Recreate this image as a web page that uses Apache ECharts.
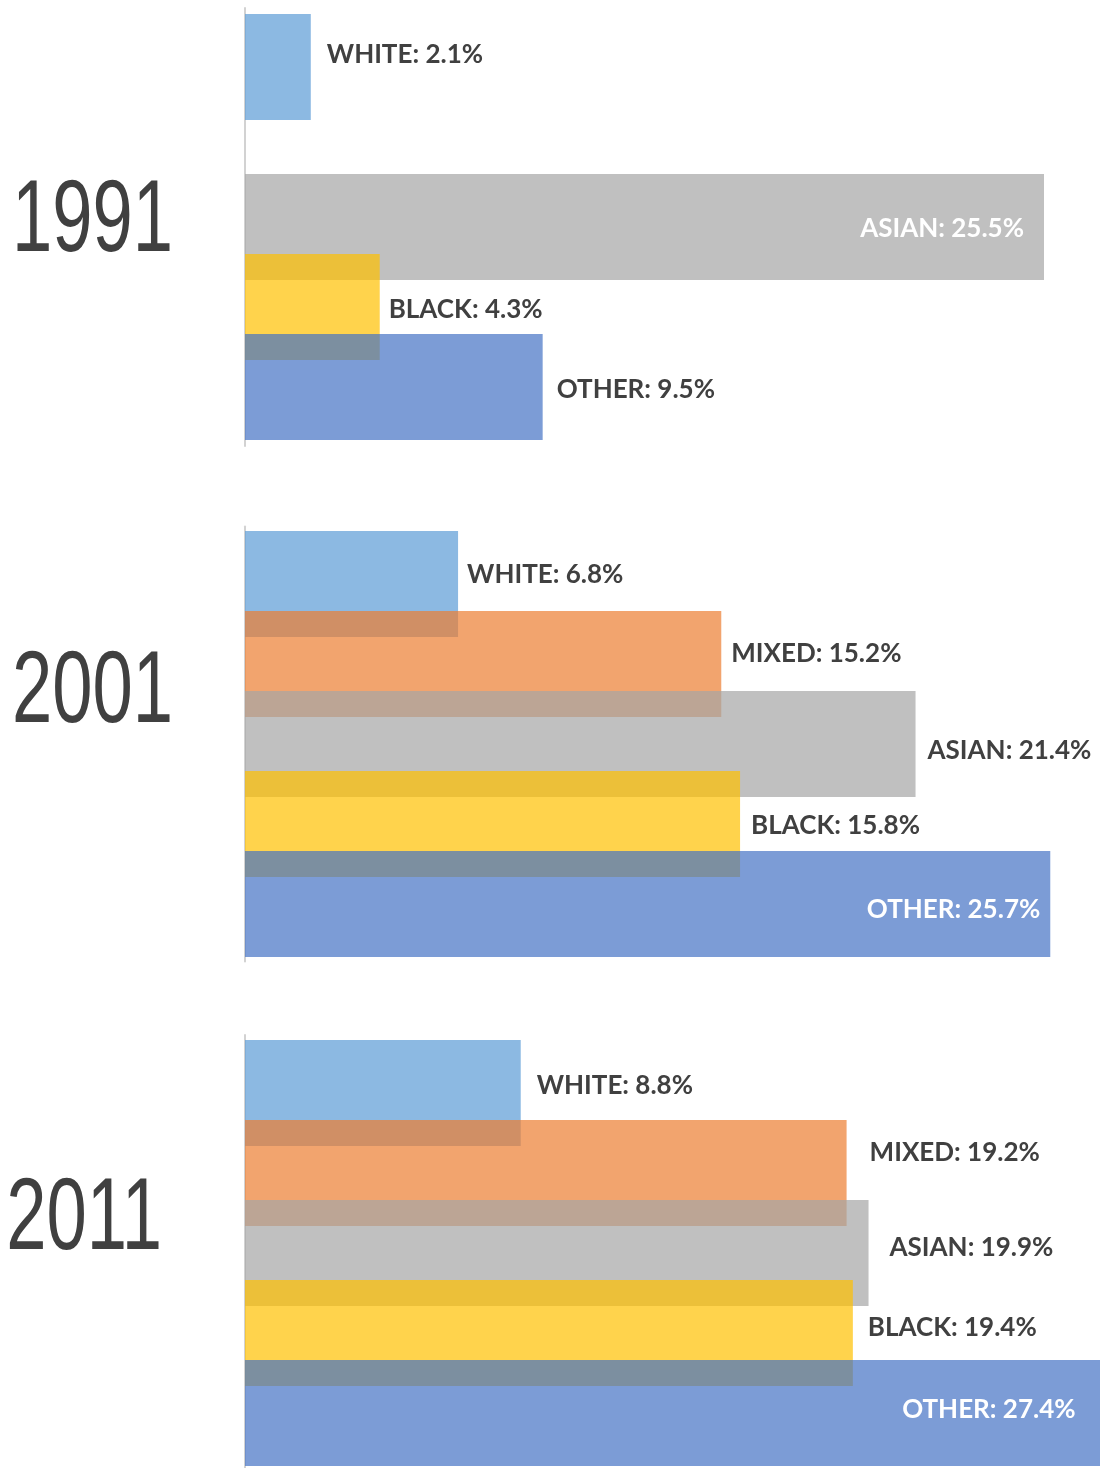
<!DOCTYPE html>
<html>
<head>
<meta charset="utf-8">
<script src="https://cdn.jsdelivr.net/npm/echarts@6/dist/echarts.min.js"></script>
<style>
  html, body { margin: 0; padding: 0; background: #ffffff; }
  #chart { width: 1100px; height: 1468px; }
</style>
</head>
<body>
<div id="chart"></div>
<script>
// Census shares by group (%), one entry per year
const years  = ['1991', '2001', '2011'];
const groups = ['WHITE', 'MIXED', 'ASIAN', 'BLACK', 'OTHER'];
const white  = [2.1, 6.8, 8.8];
const mixed  = [null, 15.2, 19.2];
const asian  = [25.5, 21.4, 19.9];
const black  = [4.3, 15.8, 19.4];
const other  = [9.5, 25.7, 27.4];
const valuesByGroup = [white, mixed, asian, black, other];

// ---- styling / layout ----
const groupColors = ['#5B9BD5', '#ED7D31', '#A5A5A5', '#FFC000', '#4472C4'];
const panelTop    = [8, 526.5, 1035];
const panelHeight = [438, 435, 436];
// large year captions: right edge and vertical centre, condensed horizontally
const yearRight   = [173, 173, 162];
const yearCenter  = [222.5, 694, 1220.5];
// per panel, per group: [label position, distance from bar end, vertical shift]
const labelPlace = [
  [['right', 16, -12], null, ['insideRight', 20, 2], ['right', 9, 2.5], ['right', 14, 2.5]],
  [['right', 9, -9], ['right', 10, -10], ['right', 12, 7], ['right', 11, 2], ['insideRight', 10, 6]],
  [['right', 16, -7.5], ['right', 23, -20], ['right', 21, -5.5], ['right', 15, -5], ['insideRight', 28, -3.5]]
];

const grids = [], xAxes = [], yAxes = [], series = [], captions = [];

years.forEach((year, p) => {
  grids.push({
    left: 245,
    top: panelTop[p],
    width: 940,
    height: panelHeight[p],
    outerBoundsMode: 'none'
  });
  xAxes.push({
    gridIndex: p,
    type: 'value',
    min: 0,
    max: 30,
    show: false
  });
  yAxes.push({
    gridIndex: p,
    type: 'category',
    data: [year],
    axisTick: { show: false },
    splitLine: { show: false },
    axisLabel: { show: false },
    axisLine: { show: true, lineStyle: { color: '#d2d2d2', width: 2 } }
  });
  captions.push({
    type: 'text',
    x: yearRight[p],
    y: yearCenter[p],
    scaleX: 0.71,
    style: {
      text: year,
      font: '102px "Liberation Sans", Arial, sans-serif',
      fill: '#404040',
      align: 'right',
      verticalAlign: 'middle'
    }
  });

  groups.forEach((name, g) => {
    const v = valuesByGroup[g][p];
    const place = labelPlace[p][g] || ['right', 10, 0];
    const inside = place[0] === 'insideRight';
    series.push({
      type: 'bar',
      name: name,
      xAxisIndex: p,
      yAxisIndex: p,
      data: [v],
      barWidth: 106,
      barGap: '-24.53%',
      itemStyle: { color: groupColors[g], opacity: 0.7 },
      emphasis: { disabled: true },
      animation: false,
      label: {
        show: v != null,
        position: place[0],
        distance: place[1],
        offset: [0, place[2]],
        formatter: (d) => name + ': ' + d.value.toFixed(1) + '%',
        fontFamily: 'Lato, "Open Sans", sans-serif',
        fontWeight: 'bold',
        fontSize: 26,
        opacity: 1,
        color: inside ? '#ffffff' : '#404040'
      }
    });
  });
});

const chart = echarts.init(document.getElementById('chart'), null, { renderer: 'canvas' });
chart.setOption({
  animation: false,
  backgroundColor: '#ffffff',
  grid: grids,
  xAxis: xAxes,
  yAxis: yAxes,
  series: series,
  graphic: captions
});
</script>
</body>
</html>
